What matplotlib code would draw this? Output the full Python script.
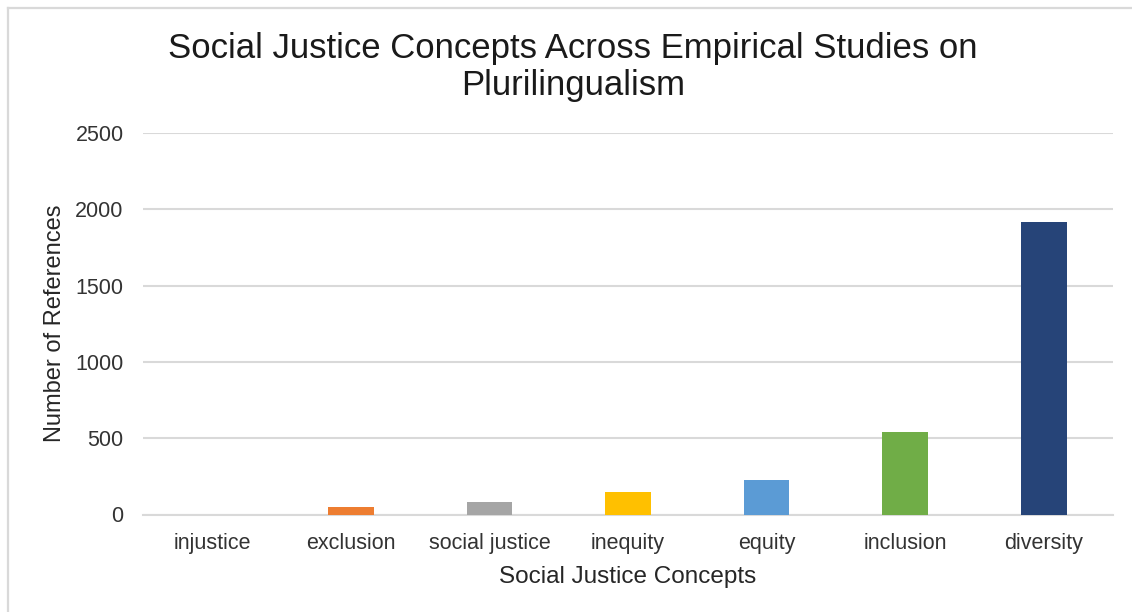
import matplotlib
matplotlib.use("Agg")
import matplotlib.pyplot as plt
from matplotlib.lines import Line2D

plt.rcParams['font.family'] = ['Liberation Sans', 'DejaVu Sans']

concepts = ["injustice", "exclusion", "social justice", "inequity", "equity", "inclusion", "diversity"]
references = [0, 51, 84, 148, 226, 543, 1920]
colors = ["#4472C4", "#ED7D31", "#A5A5A5", "#FFC000", "#5B9BD5", "#70AD47", "#264478"]
y_ticks = [0, 500, 1000, 1500, 2000, 2500]

W, H = 1132, 612
fig = plt.figure(figsize=(W / 100, H / 100), dpi=100)
ax = fig.add_axes([143 / W, 1 - 514.5 / H, (1113 - 143) / W, (514.5 - 133) / H])

x = range(len(concepts))
ax.bar(x, references, width=0.33, color=colors, zorder=3)

ax.set_xlim(-0.5, len(concepts) - 0.5)
ax.set_ylim(0, 2500)
ax.set_yticks(y_ticks)
ax.set_xticks(list(x))
ax.set_xticklabels(concepts)
ax.grid(axis='y', color='#d9d9d9', linewidth=1.5, zorder=0)
ax.tick_params(axis='both', length=0, labelsize=15.5, colors='#333333')
ax.tick_params(axis='y', pad=14)
ax.tick_params(axis='x', pad=13)
for side in ['top', 'right', 'left']:
    ax.spines[side].set_visible(False)
ax.spines['bottom'].set_color('#d9d9d9')
ax.spines['bottom'].set_linewidth(1.5)

ax.set_xlabel("Social Justice Concepts", fontsize=17.5, color='#262626', labelpad=9)
ax.set_ylabel("Number of References", fontsize=17, color='#262626', labelpad=6.5)

fig.text(573 / W, 1 - 67 / H,
         "Social Justice Concepts Across Empirical Studies on\nPlurilingualism",
         ha='center', va='center', fontsize=25, color='#1a1a1a', linespacing=1.18)

# outer frame on top and left edges
fig.add_artist(Line2D([8 / W, 1], [1 - 8 / H, 1 - 8 / H], color='#d9d9d9', linewidth=1.6,
                      transform=fig.transFigure))
fig.add_artist(Line2D([8 / W, 8 / W], [0, 1 - 8 / H], color='#d9d9d9', linewidth=1.6,
                      transform=fig.transFigure))

fig.savefig("out.png", dpi=100, facecolor='white')
